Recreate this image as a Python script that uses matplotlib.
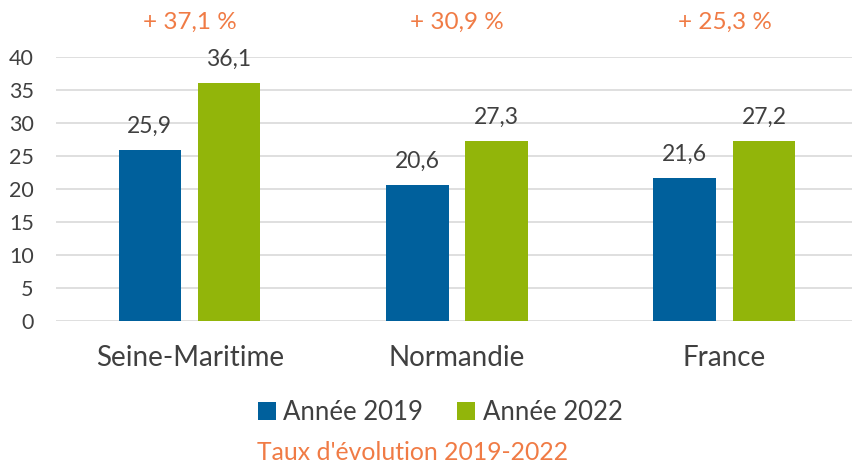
import numpy as np
import matplotlib.pyplot as plt

plt.rcParams['font.family'] = ['Lato', 'DejaVu Sans']

categories = ["Seine-Maritime", "Normandie", "France"]
annee_2019 = [25.9, 20.6, 21.6]
annee_2022 = [36.1, 27.3, 27.2]
evolution = ["+ 37,1 %", "+ 30,9 %", "+ 25,3 %"]

blue = "#00609C"
green = "#92B50A"
orange = "#F07B45"
grey = "#404040"

fig = plt.figure(figsize=(8.53, 4.63), dpi=100)
ax = fig.add_axes([56/853, 1 - 321/463, 1 - 56/853, 264/463])

x = np.arange(len(categories))
w = 0.234
b1 = ax.bar(x - 0.149, annee_2019, w, color=blue, label="Année 2019", zorder=3)
b2 = ax.bar(x + 0.147, annee_2022, w, color=green, label="Année 2022", zorder=3)

for bars, vals in ((b1, annee_2019), (b2, annee_2022)):
    for r, v in zip(bars, vals):
        ax.text(r.get_x() + r.get_width()/2, v + 3.6, f"{v:.1f}".replace(".", ","),
                ha="center", va="center", fontsize=16.5, color=grey)

for i, t in enumerate(evolution):
    ax.text(i, 45.3, t, ha="center", va="center", fontsize=17.5, color=orange, clip_on=False)

ax.set_ylim(0, 40)
ax.set_xlim(-0.5, 2.48)
ax.set_yticks(range(0, 41, 5))
ax.yaxis.grid(True, color="#D9D9D9", linewidth=1.2, zorder=0)
ax.set_xticks(x)
ax.set_xticklabels(categories, fontsize=20, color=grey)
ax.tick_params(axis="x", length=0, pad=17)
ax.tick_params(axis="y", length=0, labelsize=15.5, labelcolor=grey, pad=16)
for s in ax.spines.values():
    s.set_visible(False)

fig.legend(handles=[b1, b2], loc="center", bbox_to_anchor=(440/853, 1 - 412/463),
           ncol=2, frameon=False, fontsize=18.5, labelcolor=grey,
           handlelength=0.7, handleheight=0.7, handletextpad=0.3, columnspacing=1.3)
fig.text(413/853, 1 - 452/463, "Taux d'évolution 2019-2022", ha="center", va="center",
         fontsize=17.8, color=orange)

fig.savefig("out.png", dpi=100)
